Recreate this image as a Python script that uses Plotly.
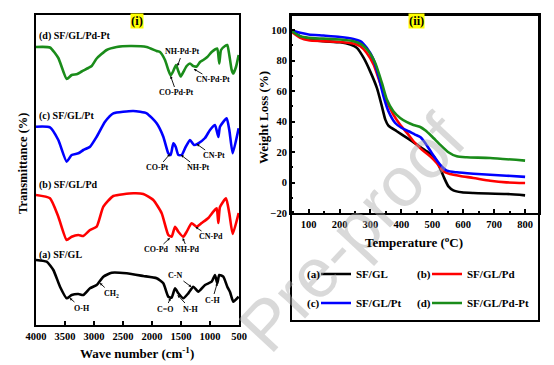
import plotly.graph_objects as go

# ---------------- FTIR data (panel i) ----------------
wn_a = [4000, 3816, 3701, 3586, 3471, 3385, 3270, 3184, 3069, 2954, 2839, 2695, 2437, 2150, 1920, 1805,
        1719, 1661, 1603, 1546, 1460, 1374, 1288, 1202, 1086, 971, 914, 874, 840, 771, 702, 655, 598, 506]
tr_a = [105, 103.3, 95, 78.3, 66.7, 70, 71, 70, 76.7, 80, 88.3, 92.3, 91.7, 89, 86.7, 81.7,
        68.3, 67.3, 76.7, 71.7, 66.7, 71.7, 78.3, 73.3, 80, 83.3, 90, 81.7, 90, 88.3, 78.3, 73, 63.3, 68.3]

wn_b = [4000, 3759, 3615, 3471, 3385, 3270, 3184, 3069, 2954, 2839, 2667, 2322, 2150, 1977, 1833,
        1719, 1661, 1603, 1546, 1460, 1402, 1316, 1230, 1144, 1029, 943, 885, 856, 828, 724, 667, 609, 506]
tr_b = [170, 166.7, 148.3, 125, 128.3, 130, 129, 135, 138.3, 158.3, 169, 171.7, 171, 165, 151.7,
        130, 128.3, 138.3, 133.3, 128.3, 133.3, 141.7, 138.3, 142, 147, 153.3, 156.7, 142, 158, 166.7, 151.7, 131, 152]

wn_c = [4000, 3759, 3615, 3471, 3385, 3270, 3184, 3069, 2954, 2810, 2667, 2322, 2092, 1920, 1805,
        1719, 1678, 1632, 1592, 1546, 1488, 1431, 1345, 1276, 1202, 1086, 1000, 914, 856, 828, 713, 667, 609, 506]
tr_c = [238.3, 237.7, 225, 203.3, 210, 211.7, 215, 218.3, 228.3, 243.3, 251.7, 254, 251.7, 241.7, 228.3,
        211.7, 210, 221.7, 218.3, 210, 210, 216.7, 225, 220, 221.7, 227, 235, 240, 228, 238.3, 246.7, 235, 211.7, 236.7]

wn_d = [4000, 3760, 3615, 3471, 3385, 3288, 3213, 3098, 3040, 2954, 2782, 2609, 2379, 2092, 1920, 1862,
        1776, 1719, 1678, 1633, 1586, 1547, 1505, 1460, 1402, 1345, 1288, 1229, 1172, 1116, 1047, 971,
        914, 874, 840, 810, 741, 702, 667, 626, 598, 552, 506]
tr_d = [318, 317.5, 307, 286, 290, 291, 293.5, 297, 299, 306.5, 315, 318, 319, 318, 314, 313,
        305, 295, 289.5, 294, 300, 294, 288.5, 293, 299, 301.5, 299, 298.5, 303, 305, 308, 313,
        315.5, 316.5, 301.5, 315, 319, 320, 310, 295, 291.5, 298, 310]

ftir_names = ["(a) SF/GL", "(b) SF/GL/Pd", "(c) SF/GL/Pt", "(d) SF/GL/Pd-Pt"]
wn_ticks = [4000, 3500, 3000, 2500, 2000, 1500, 1000, 500]

# ---------------- TGA data (panel ii) ----------------
t_a = [45, 73, 100, 148, 202, 235, 256, 278, 299, 321, 337, 348, 358, 385, 418, 450, 482, 504, 520, 536,
       552, 568, 595, 633, 740, 800]
w_a = [99.4, 96, 93.9, 92.8, 92.1, 90.6, 88.4, 81.8, 73, 62, 50, 41.3, 37.4, 33.7, 29.3, 24.9, 20.5, 17.2,
       11.8, 4.1, -2.5, -5.1, -6.4, -6.9, -7.5, -8.4]
t_b = [45, 73, 100, 148, 202, 245, 267, 288, 310, 331, 353, 374, 396, 418, 439, 466, 493, 514, 536, 557,
       590, 633, 687, 740, 800]
w_b = [98.9, 95, 93.4, 92.8, 92.3, 91.3, 89.5, 85.1, 77.5, 65.4, 53.4, 44.6, 38, 32.6, 27.1, 21.6, 17.2,
       12.9, 7.4, 5.6, 4.3, 3, 1.2, 0.1, -0.3]
t_c = [45, 73, 100, 148, 202, 245, 267, 288, 310, 326, 342, 358, 380, 401, 423, 444, 461, 477, 498, 525,
       547, 579, 633, 740, 800]
w_c = [99.8, 98.3, 97.2, 96.5, 95.6, 94.3, 92.8, 88.4, 80.7, 69.8, 56.7, 46.8, 39.1, 35.8, 33.7, 31.5,
       29.9, 26, 19.4, 11.8, 7.8, 6.7, 5.8, 4.5, 3.7]
t_d = [45, 73, 100, 148, 202, 245, 272, 294, 315, 337, 353, 374, 396, 418, 439, 461, 477, 498, 525, 552,
       579, 611, 687, 800]
w_d = [99.4, 96, 95, 94.5, 93.9, 92.8, 90.6, 86.2, 78.6, 65.4, 54.5, 46.8, 42.4, 39.6, 37.8, 36.5, 34.3,
       30.4, 24.9, 19.9, 17.2, 16.6, 16.1, 14.4]

tga_names = ["SF/GL", "SF/GL/Pd", "SF/GL/Pt", "SF/GL/Pd-Pt"]
tga_tags = ["(a)", "(b)", "(c)", "(d)"]
temp_ticks = [100, 200, 300, 400, 500, 600, 700, 800]
wl_ticks = [-20, 0, 20, 40, 60, 80, 100]

colors = ["#000000", "#ff0000", "#0000ff", "#1a8c1a"]

# ---------------- layout helpers ----------------
WD, HT = 554, 365
def fx(x): return x / WD
def fy(y): return 1 - y / HT

SERIF = "Liberation Serif"
BOLD = dict(family=SERIF, color="black", weight="bold")

fig = go.Figure()

for wn, tr, c in zip([wn_a, wn_b, wn_c, wn_d], [tr_a, tr_b, tr_c, tr_d], colors):
    fig.add_trace(go.Scatter(x=wn, y=tr, mode="lines", line=dict(color=c, width=2.6, shape="spline", smoothing=0.5),
                             showlegend=False, xaxis="x", yaxis="y", hoverinfo="skip"))

for i, (t, w) in enumerate(zip([t_a, t_b, t_c, t_d], [w_a, w_b, w_c, w_d])):
    fig.add_trace(go.Scatter(x=t, y=w, mode="lines", name=tga_names[i],
                             line=dict(color=colors[i], width=2.6, shape="spline", smoothing=0.6),
                             xaxis="x2", yaxis="y2", legend="legend" if i < 2 else "legend2"))

axis_common = dict(showline=True, linecolor="black", linewidth=2, mirror=True, showgrid=False,
                   zeroline=False, tickcolor="black", tickwidth=1.5, automargin=False,
                   tickfont=dict(size=10.5, **BOLD))

legend_common = dict(orientation="h", x=fx(316), xanchor="left", yanchor="middle",
                     entrywidth=66, bgcolor="rgba(0,0,0,0)", font=dict(size=11, **BOLD),
                     itemclick=False, itemdoubleclick=False, borderwidth=0)

fig.update_layout(
    width=WD, height=HT, margin=dict(l=0, r=0, t=0, b=0, autoexpand=False),
    paper_bgcolor="white", plot_bgcolor="white",
    xaxis=dict(domain=[fx(36), fx(239)], range=[4000, 500], tickvals=wn_ticks, ticks="inside", ticklen=4,
               anchor="y", **axis_common),
    yaxis=dict(domain=[fy(325), fy(15)], range=[40, 350], showticklabels=False, ticks="",
               anchor="x", **axis_common),
    xaxis2=dict(domain=[fx(291), fx(539)], range=[43, 845], tickvals=temp_ticks, ticks="inside", ticklen=4,
                minor=dict(dtick=50, ticklen=2, ticks="inside", tickcolor="black"),
                anchor="y2", **axis_common),
    yaxis2=dict(domain=[fy(213), fy(15)], range=[-20, 110], tickvals=wl_ticks, ticks="inside", ticklen=4,
                minor=dict(dtick=10, ticklen=2, ticks="inside", tickcolor="black"),
                anchor="x2", **axis_common),
    legend=dict(y=fy(274), **legend_common),
    legend2=dict(y=fy(303), **legend_common),
)

# outer frame of panel (ii) enclosing legend
fig.add_shape(type="rect", xref="paper", yref="paper", x0=fx(291), x1=fx(539), y0=fy(321), y1=fy(15),
              line=dict(color="black", width=2), layer="above")

ann = []
def note(text, x, y, size, angle=0, xanchor="center", **kw):
    ann.append(dict(text=text, xref="paper", yref="paper", x=fx(x), y=fy(y), showarrow=False,
                    xanchor=xanchor, yanchor="middle", textangle=angle,
                    font=kw.pop("font", dict(size=size, **BOLD)), **kw))

# watermark
note("Pre-proof", 352, 233, 70, angle=-47,
     font=dict(family="Liberation Sans", size=70, color="rgba(170,170,170,0.45)"))
# panel labels
note("(i)", 137, 21, 12.5, bgcolor="#ffff00", borderpad=0)
note("(ii)", 416, 21, 12.5, bgcolor="#ffff00", borderpad=0)
# axis titles
note("Transmittance (%)", 23, 164, 12.5, angle=-90)
note("Wave number (cm<sup>-1</sup>)", 137, 353, 13)
note("Weight Loss (%)", 263, 118, 13, angle=-90)
note("Temperature (<sup>o</sup>C)", 414, 242, 13)
# curve names in panel (i)
for name, yy in zip(ftir_names, [255, 185, 116, 36]):
    note(name, 37, yy, 10, xanchor="left")
# legend tags (a)-(d)
for tag, xx, yy in zip(tga_tags, [313.5, 424, 313.5, 424], [274, 274, 303, 303]):
    note(tag, xx, yy, 11)

# band labels with arrows: (text, tip wavenumber, tip y value, text dx px, text dy px)
bands = [
    ("NH-Pd-Pt", 1560, 299, 5, -14), ("CO-Pd-Pt", 1680, 289, 6, 17), ("CN-Pd-Pt", 1280, 296, 19, 11),
    ("CO-Pt", 1690, 211, -12, 14), ("NH-Pt", 1500, 210, 17, 13), ("CN-Pt", 1230, 221, 17, 12),
    ("CO-Pd", 1690, 127, -13, 12), ("NH-Pd", 1470, 127, 5, 12), ("CN-Pd", 1250, 138, 15, 10),
    ("O-H", 3420, 67, 12, 10), ("CH<sub>2</sub>", 2900, 82, 12, 11), ("C=O", 1680, 67, -5, 11),
    ("N-H", 1560, 70, 13, 14), ("C-N", 1320, 78, -16, -12), ("C-H", 874, 82, -5, 17),
]
for txt, xw, yv, dx, dy in bands:
    ann.append(dict(text=txt, x=xw, y=yv, xref="x", yref="y", ax=dx, ay=dy, showarrow=True,
                    arrowhead=2, arrowsize=0.6, arrowwidth=0.9, arrowcolor="black", standoff=0,
                    font=dict(size=8, **BOLD)))

fig.update_layout(annotations=ann)
fig.write_html("out.html", config={"displayModeBar": False},
               post_script="document.body.style.margin='0px';")
